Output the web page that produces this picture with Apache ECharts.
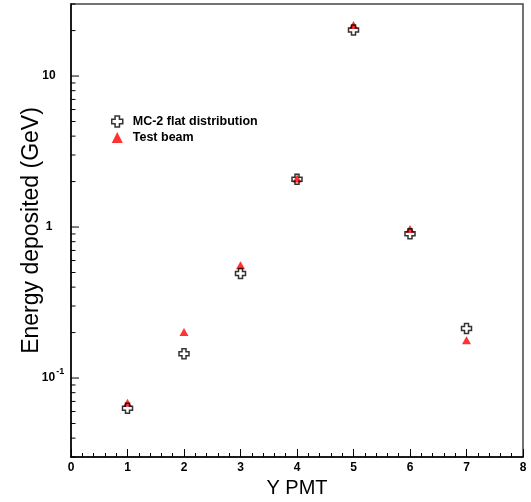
<!DOCTYPE html>
<html>
<head>
<meta charset="utf-8">
<script src="https://cdn.jsdelivr.net/npm/echarts@6/dist/echarts.min.js"></script>
<style>html,body{margin:0;padding:0;background:#fff}#c{width:531px;height:502px}</style>
</head>
<body>
<div id="c"></div>
<script>
// ---- data ----
var pmt = [1, 2, 3, 4, 5, 6, 7];
var mcFlat = [0.063, 0.145, 0.492, 2.07, 20.2, 0.903, 0.213];
var testBeam = [0.0686, 0.202, 0.559, 2.10, 21.8, 0.97, 0.178];
var yMajorTicks = [0.1, 1, 10];
var yMajorLabels = ['{b|10}{s|-1}', '1', '10'];
var yMinorTicks = [0.03, 0.04, 0.05, 0.06, 0.07, 0.08, 0.09,
                   0.2, 0.3, 0.4, 0.5, 0.6, 0.7, 0.8, 0.9,
                   2, 3, 4, 5, 6, 7, 8, 9, 20, 30];
var seriesNames = ['MC-2 flat distribution', 'Test beam'];

var crossPath = 'path://M3,0 L7,0 L7,3 L10,3 L10,7 L7,7 L7,10 L3,10 L3,7 L0,7 L0,3 L3,3 Z';
var FONT = 'Liberation Sans';

function pairs(xs, ys) { return xs.map(function (x, i) { return [x, ys[i]]; }); }

var tickData = yMajorTicks.map(function (v, i) { return [0, v, 8, i]; })
  .concat(yMinorTicks.map(function (v) { return [0, v, 4.5, -1]; }));

var chart = echarts.init(document.getElementById('c'), null, { renderer: 'canvas' });
chart.setOption({
  animation: false,
  backgroundColor: '#fff',
  grid: { left: 71, right: 8, top: 4, bottom: 45, outerBoundsMode: 'none', containLabel: false,
          show: true, borderColor: '#444', borderWidth: 1.5, backgroundColor: 'transparent' },
  legend: {
    orient: 'vertical', left: 106, top: 110,
    itemWidth: 11, itemHeight: 11, itemGap: 3,
    textStyle: { fontFamily: FONT, fontWeight: 'bold', fontSize: 12.5, color: '#000', lineHeight: 12, padding: [0, 0, 0, 5] },
    data: [
      { name: seriesNames[0], icon: crossPath, itemStyle: { color: 'transparent', borderColor: '#000', borderWidth: 1.5 } },
      { name: seriesNames[1], icon: 'triangle', itemStyle: { color: '#ff0000' } }
    ]
  },
  xAxis: {
    type: 'value', min: 0, max: 8, interval: 1,
    name: 'Y PMT', nameLocation: 'middle', nameGap: 21,
    nameTextStyle: { fontFamily: FONT, fontSize: 20, color: '#000' },
    axisLine: { show: true, onZero: false, lineStyle: { color: '#000', width: 1.5 } },
    axisTick: { show: true, inside: true, length: 8, lineStyle: { color: '#000', width: 1 } },
    minorTick: { show: true, splitNumber: 5, length: 4, lineStyle: { color: '#000', width: 1 } },
    axisLabel: { fontFamily: FONT, fontWeight: 'bold', fontSize: 12, color: '#000', margin: 5 },
    splitLine: { show: false }
  },
  yAxis: {
    type: 'log', logBase: 10, min: 0.03, max: 30,
    name: 'Energy deposited (GeV)', nameLocation: 'middle', nameGap: 28,
    nameTextStyle: { fontFamily: FONT, fontSize: 23, color: '#000' },
    axisLine: { show: true, onZero: false, lineStyle: { color: '#000', width: 1.5 } },
    axisTick: { show: false },
    splitLine: { show: false },
    axisLabel: { show: false }
  },
  series: [
    {
      type: 'custom', name: 'yticks', silent: true, clip: false, z: 1,
      data: tickData,
      renderItem: function (params, api) {
        var p = api.coord([api.value(0), api.value(1)]);
        var len = api.value(2);
        var li = api.value(3);
        var children = [
          { type: 'line', shape: { x1: p[0], y1: p[1], x2: p[0] + len, y2: p[1] }, style: { stroke: '#000', lineWidth: 1 } }
        ];
        if (li >= 0) {
          children.push({
            type: 'text', x: p[0] - (li === 0 ? 18 : 22), y: p[1],
            style: {
              text: yMajorLabels[li], align: 'center', verticalAlign: 'middle',
              fontFamily: FONT, fontWeight: 'bold', fontSize: 12, fill: '#000',
              rich: {
                b: { fontFamily: FONT, fontWeight: 'bold', fontSize: 12, fill: '#000', color: '#000' },
                s: { fontFamily: FONT, fontWeight: 'bold', fontSize: 9, fill: '#000', color: '#000', padding: [0, 0, 13, 1] }
              }
            }
          });
        }
        return { type: 'group', children: children };
      }
    },
    {
      type: 'scatter', name: seriesNames[1], symbol: 'triangle', symbolSize: [9, 8], z: 2,
      itemStyle: { color: '#ff0000' },
      data: pairs(pmt, testBeam)
    },
    {
      type: 'scatter', name: seriesNames[0], symbol: crossPath, symbolSize: 10, z: 3,
      itemStyle: { color: 'transparent', borderColor: '#000', borderWidth: 1.5 },
      data: pairs(pmt, mcFlat)
    }
  ]
});
</script>
</body>
</html>
